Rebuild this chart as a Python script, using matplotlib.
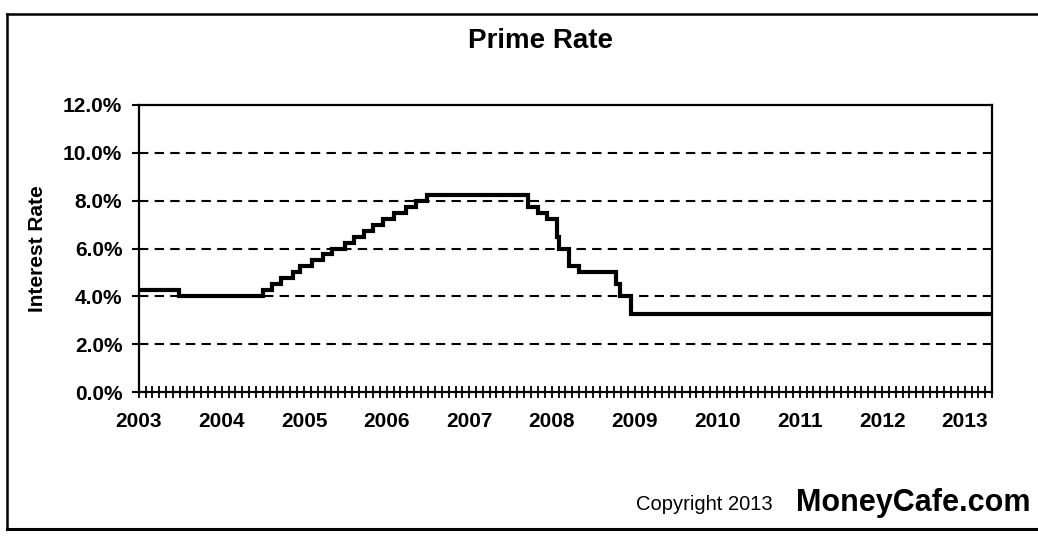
import matplotlib
matplotlib.use("Agg")
import matplotlib.pyplot as plt
import matplotlib.dates as mdates
from matplotlib.lines import Line2D
from matplotlib.ticker import StrMethodFormatter
import pandas as pd

plt.rcParams['font.family'] = ['Liberation Sans', 'DejaVu Sans']

# Prime rate change dates and the rate in effect from that date (%)
change_dates = ["2003-01-01", "2003-06-27", "2004-07-01", "2004-08-11", "2004-09-22",
                "2004-11-11", "2004-12-15", "2005-02-03", "2005-03-23", "2005-05-04",
                "2005-07-01", "2005-08-10", "2005-09-21", "2005-11-02", "2005-12-14",
                "2006-02-01", "2006-03-29", "2006-05-11", "2006-06-29", "2007-09-19",
                "2007-11-01", "2007-12-12", "2008-01-22", "2008-01-31", "2008-03-19",
                "2008-05-01", "2008-10-09", "2008-10-30", "2008-12-16", "2013-05-01"]
rates = [4.25, 4.00, 4.25, 4.50, 4.75,
         5.00, 5.25, 5.50, 5.75, 6.00,
         6.25, 6.50, 6.75, 7.00, 7.25,
         7.50, 7.75, 8.00, 8.25, 7.75,
         7.50, 7.25, 6.50, 6.00, 5.25,
         5.00, 4.50, 4.00, 3.25, 3.25]
y_ticks = [0, 2, 4, 6, 8, 10, 12]
x_start, x_end = "2003-01-01", "2013-05-01"

dates = pd.to_datetime(change_dates)

fig = plt.figure(figsize=(10.38, 5.37), dpi=100)
ax = fig.add_axes([139/1038, 1-392/537, 853/1038, 287/537])

ax.step(dates, rates, where='post', color='black', lw=3.0, solid_joinstyle='miter')

ax.set_xlim(pd.Timestamp(x_start), pd.Timestamp(x_end))
ax.set_ylim(0, 12)
ax.set_yticks(y_ticks)
ax.yaxis.set_major_formatter(StrMethodFormatter('{x:.1f}%'))

for y in y_ticks[1:-1]:
    ax.axhline(y, color='black', lw=1.5, linestyle=(0, (4.5, 3)), zorder=1)

ax.xaxis.set_major_locator(mdates.YearLocator())
ax.xaxis.set_major_formatter(mdates.DateFormatter('%Y'))
ax.xaxis.set_minor_locator(mdates.MonthLocator())

for s in ax.spines.values():
    s.set_linewidth(1.6)
    s.set_color('black')

ax.tick_params(axis='y', direction='out', length=5, width=1.5, pad=7,
               labelsize=15)
ax.tick_params(axis='x', which='both', direction='inout', length=9, width=1.3,
               pad=10, labelsize=15)
for lab in ax.get_xticklabels() + ax.get_yticklabels():
    lab.set_fontweight('bold')

ax.set_ylabel('Interest Rate', fontsize=15, fontweight='bold')
ax.yaxis.set_label_coords((47-139)/853, 0.5)

fig.text(540/1038, 1-41/537, 'Prime Rate', ha='center', va='center',
         fontsize=20, fontweight='bold')
fig.text(773/1038, 1-505/537, 'Copyright 2013', ha='right', va='center',
         fontsize=14.5)
fig.text(1030/1038, 1-503/537, 'MoneyCafe.com', ha='right', va='center',
         fontsize=22, fontweight='bold')

# outer frame
fig.add_artist(Line2D([7/1038, 7/1038], [1-14/537, 1-529/537], color='black', lw=1.8,
                      transform=fig.transFigure))
fig.add_artist(Line2D([7/1038, 1.0], [1-14/537, 1-14/537], color='black', lw=1.8,
                      transform=fig.transFigure))
fig.add_artist(Line2D([7/1038, 1.0], [1-529/537, 1-529/537], color='black', lw=2.2,
                      transform=fig.transFigure))

fig.savefig('out.png', dpi=100, facecolor='white')
